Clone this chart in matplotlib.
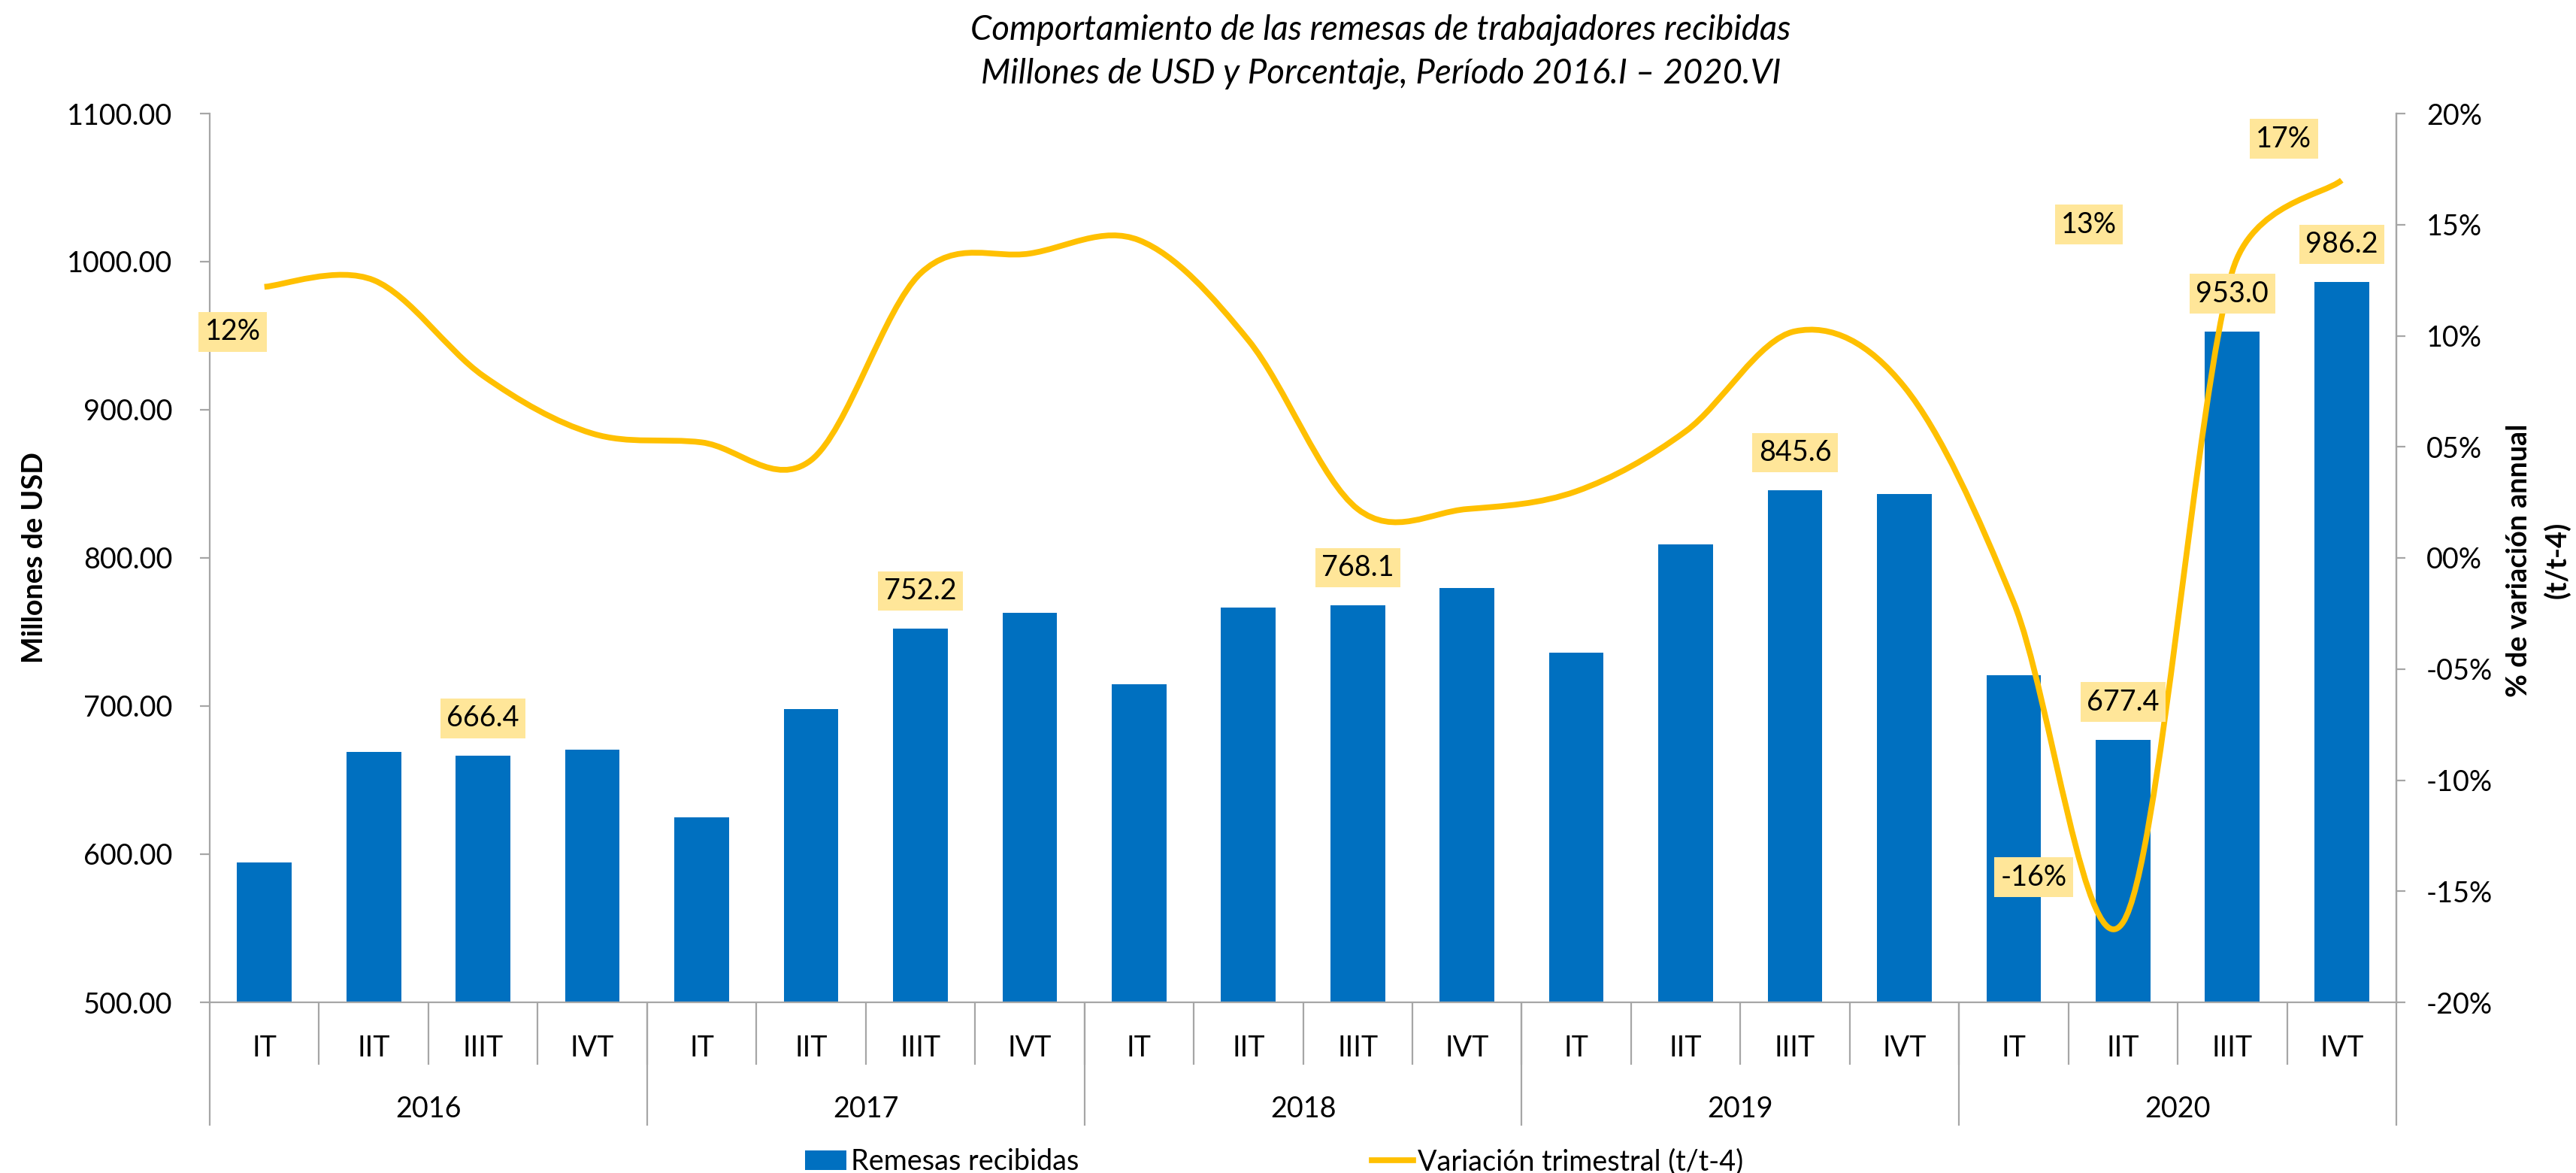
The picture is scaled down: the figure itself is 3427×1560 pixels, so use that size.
import matplotlib
matplotlib.use('Agg')
import matplotlib.pyplot as plt
from matplotlib.path import Path
from matplotlib.patches import PathPatch, Patch
from matplotlib.lines import Line2D
from matplotlib.ticker import FuncFormatter
import numpy as np

# ---------------- data ----------------
years = ['2016', '2017', '2018', '2019', '2020']
quarters = ['IT', 'IIT', 'IIIT', 'IVT']
remesas = [594.2, 669.1, 666.4, 670.7, 625.0, 698.0, 752.2, 763.0, 714.5, 766.7,
           768.1, 779.8, 736.0, 809.3, 845.6, 843.1, 720.7, 677.4, 953.0, 986.2]
variacion = [12.2, 12.5, 8.2, 5.6, 5.2, 4.4, 12.8, 13.7, 14.3, 9.8,
             2.2, 2.2, 3.0, 5.7, 10.2, 7.7, -2.0, -16.4, 12.9, 17.0]
bar_label_idx = [2, 6, 10, 14, 17, 18, 19]
pct_label_idx = [0, 17, 18, 19]

# ---------------- layout / style ----------------
W, H, DPI = 3427, 1560, 200
PX = 72.0 / DPI  # points per pixel
FS = 13.6
BLUE = '#0070C0'
GOLD = '#FFC000'
LABBG = '#FFE699'
GRAY = '#A6A6A6'

plt.rcParams['font.family'] = ['Lato', 'DejaVu Sans']

fig = plt.figure(figsize=(W / DPI, H / DPI), dpi=DPI)
L, R, T, B = 279, 3188, 151, 1333
ax = fig.add_axes([L / W, (H - B) / H, (R - L) / W, (B - T) / H])

n = len(remesas)
x = np.arange(n)
ax.bar(x, remesas, width=0.5, color=BLUE, zorder=2)
ax.set_xlim(-0.5, n - 0.5)
ax.set_ylim(500, 1100)
ax.set_yticks(np.arange(500, 1101, 100))
ax.yaxis.set_major_formatter(FuncFormatter(lambda v, p: f'{v:.2f}'))

for s in ['left', 'bottom', 'right']:
    ax.spines[s].set_color(GRAY)
    ax.spines[s].set_linewidth(0.8)
ax.spines['top'].set_visible(False)
ax.tick_params(axis='y', length=13 * PX, width=0.8, color=GRAY, pad=37 * PX,
               labelsize=FS)

# two-level category axis
ax.set_xticks(np.arange(0.5, n - 1, 1))
ax.set_xticklabels([])
ax.tick_params(axis='x', which='major', length=83 * PX, width=0.8, color=GRAY)
ax.set_xticks(x, labels=quarters * len(years), minor=True)
ax.tick_params(axis='x', which='minor', length=0, pad=43 * PX, labelsize=FS)

sec = ax.secondary_xaxis('bottom')
sec.set_xticks(np.arange(-0.5, n, len(quarters)), labels=[''] * (len(years) + 1))
sec.tick_params(which='major', length=164 * PX, width=0.8, color=GRAY)
sec.set_xticks(np.arange(1.5, n, len(quarters)), labels=years, minor=True)
sec.tick_params(which='minor', length=0, pad=124 * PX, labelsize=FS)
sec.spines['bottom'].set_visible(False)

# right axis
ax2 = ax.twinx()
ax2.set_ylim(-20, 20)
ax2.set_yticks(np.arange(-20, 21, 5))


def pfmt(v, p):
    v = int(round(v))
    return ('-' if v < 0 else '') + f'{abs(v):02d}%'


ax2.yaxis.set_major_formatter(FuncFormatter(pfmt))
ax2.tick_params(axis='y', length=12 * PX, width=0.8, color=GRAY, pad=28 * PX,
                labelsize=FS)
for s in ['left', 'bottom', 'top']:
    ax2.spines[s].set_visible(False)
ax2.spines['right'].set_color(GRAY)
ax2.spines['right'].set_linewidth(0.8)

# smoothed line: Bezier path through the data points (Excel-like smoothing,
# control arms of 1/6 of the neighbour chord, limited to half the segment length)
P = np.column_stack([x, variacion]).astype(float)
Ppx = ax2.transData.transform(P)


def arm(i_from, i_a, i_b, i_seg_end):
    chord = Ppx[i_b] - Ppx[i_a]
    clen = np.hypot(*chord)
    seg = np.hypot(*(Ppx[i_seg_end] - Ppx[i_from]))
    f = 1.0 / 6.0
    if clen > 0 and clen * f > seg / 2.0:
        f = (seg / 2.0) / clen
    return f * (P[i_b] - P[i_a])


verts = [P[0]]
codes = [Path.MOVETO]
for i in range(n - 1):
    i0 = max(i - 1, 0)
    i3 = min(i + 2, n - 1)
    c1 = P[i] + arm(i, i0, i + 1, i + 1)
    c2 = P[i + 1] - arm(i + 1, i, i3, i)
    verts += [c1, c2, P[i + 1]]
    codes += [Path.CURVE4] * 3
line_patch = PathPatch(Path(verts, codes), facecolor='none', edgecolor=GOLD,
                       lw=7.7 * PX, capstyle='butt', joinstyle='round', zorder=3)
ax2.add_patch(line_patch)

bbox_style = dict(boxstyle='square,pad=0.22', fc=LABBG, ec='none')

# bar value labels
for i in bar_label_idx:
    ax2.annotate(f'{remesas[i]:.1f}', xy=(i, remesas[i]), xycoords=ax.transData,
                 xytext=(0, 50 * PX), textcoords='offset points',
                 ha='center', va='center', fontsize=FS, bbox=bbox_style, zorder=6)

# percentage labels (manually positioned in the original)
pct_offsets = {0: (-42, -60), 17: (-119, 60), 18: (-191, 62), 19: (-77, 55)}
for i in pct_label_idx:
    dx, dy = pct_offsets[i]
    ax2.annotate(f'{variacion[i]:.0f}%', xy=(i, variacion[i]),
                 xytext=(dx * PX, dy * PX), textcoords='offset points',
                 ha='center', va='center', fontsize=FS, bbox=bbox_style, zorder=6)

# titles
fig.text(1837 / W, 1 - 53 / H, 'Comportamiento de las remesas de trabajadores recibidas',
         ha='center', va='baseline', fontsize=16.4, style='italic')
fig.text(1837 / W, 1 - 111 / H, 'Millones de USD y Porcentaje, Período 2016.I – 2020.VI',
         ha='center', va='baseline', fontsize=16.4, style='italic')

# axis titles
fig.text(46 / W, 1 - 742 / H, 'Millones de USD', rotation=90, ha='center',
         va='center', fontsize=FS, fontweight='bold')
fig.text(3377 / W, 1 - 745 / H, '% de variación annual\n(t/t-4)', rotation=90,
         ha='center', va='center', fontsize=FS, fontweight='bold',
         multialignment='center', linespacing=1.5)

# legend
handles = [Patch(facecolor=BLUE, edgecolor='none'),
           Line2D([], [], color=GOLD, lw=7.7 * PX)]
fig.legend(handles, ['Remesas recibidas', 'Variación trimestral (t/t-4)'],
           loc='center', bbox_to_anchor=(1695 / W, 1 - 1545 / H), ncol=2,
           frameon=False, fontsize=FS, handlelength=1.46, handleheight=0.7,
           handletextpad=0.16, columnspacing=10.3, borderpad=0, borderaxespad=0)

fig.savefig('out.png', dpi=DPI)
